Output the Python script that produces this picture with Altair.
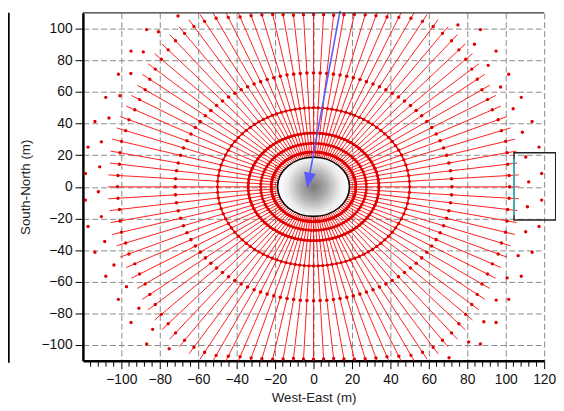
import math
import altair as alt
import pandas as pd

# ---------------- values ----------------
X_DOMAIN = [-120, 120]
Y_DOMAIN = [-110, 110]
X_TICKS = [-100, -80, -60, -40, -20, 0, 20, 40, 60, 80, 100, 120]
Y_TICKS = [-100, -80, -60, -40, -20, 0, 20, 40, 60, 80, 100]
X_MINOR = [-116, -112, -108, -104, -96, -92, -88, -84, -76, -72, -68, -64,
           -56, -52, -48, -44, -36, -32, -28, -24, -16, -12, -8, -4,
           4, 8, 12, 16, 24, 28, 32, 36, 44, 48, 52, 56, 64, 68, 72, 76,
           84, 88, 92, 96, 104, 108, 112, 116]

# spoke directions within one quadrant, measured from the horizontal axis
# (deg; denser towards the vertical, as in the picture) and the spoke end
# radius (m) read for each of them
QUAD_ANGLES = [0, 4.04, 8.07, 12.08, 16.05, 19.97, 23.83, 27.63, 31.36,
               35.02, 38.61, 42.11, 45.52, 48.87, 52.14, 55.34, 58.47,
               61.55, 64.56, 67.51, 70.42, 73.30, 76.12, 78.96, 81.73,
               84.50, 87.25, 90]
SPOKE_END = [107, 107, 107, 108, 109, 109, 110, 110, 111,
             112, 114, 116, 118, 120, 122, 123, 124,
             124, 123, 121, 119, 118, 117, 116, 115,
             114, 114, 114]
SPOKE_START = 19

# rings of mesh nodes (m) and the rings drawn as solid lines
NODE_RINGS = [22, 27.5, 34, 50, 72]
NODE_SIZE = [11, 11, 11, 11, 13]
LINE_RINGS = [22, 27.5, 34, 50]
LINE_RING_WIDTH = [2.2, 1.4, 2.4, 1.4]

# outer scattered nodes: offset from spoke end (m), every n-th spoke, shift,
# and an angular shift (deg)
OUTER_OFFSET = [-5, 5, 12]
OUTER_EVERY = [1, 2, 2]
OUTER_SHIFT = [0, 0, 1]
OUTER_HALF = [0, 1.6, 0]

# central opening (circle radius in m) and the blue arrow
HOLE_R = 18.7
ARROW_START = [13.8, 111.2]
ARROW_HEAD = [-2.6, 3.9]
ARROW_ANGLE = 10.5

# screenshot framing pieces
RIGHT_BOX = [104.3, 126.0, 21.5, -21.0]
RIGHT_BOX_CYAN = [17.6, -17.9]
LEFT_EDGE = [-158.6, 110.0, -111.2]

W, H = 468, 353
RED_LINE = "#ff1e1e"
RED_DOT = "#e00000"
FONT = "Liberation Sans"

# ---------------- tables ----------------
spoke_list = []  # (angle, end radius)
seen = set()
for q, e in zip(QUAD_ANGLES, SPOKE_END):
    for a in (q, 180 - q, 180 + q, 360 - q):
        a = round(a % 360, 3)
        if a not in seen:
            seen.add(a)
            spoke_list.append((a, e))
spoke_list.sort()


def pol(r, a):
    t = math.radians(a)
    return r * math.cos(t), r * math.sin(t)


spoke_rows = []
for a, e in spoke_list:
    x0, y0 = pol(SPOKE_START, a)
    x1, y1 = pol(e, a)
    spoke_rows.append({"x": x0, "y": y0, "x2": x1, "y2": y1})
spokes = pd.DataFrame(spoke_rows)

dot_rows = []
for r, s in zip(NODE_RINGS, NODE_SIZE):
    for a, e in spoke_list:
        x, y = pol(r, a)
        dot_rows.append({"x": x, "y": y, "s": s})
for off, every, shift, half in zip(OUTER_OFFSET, OUTER_EVERY, OUTER_SHIFT, OUTER_HALF):
    for i, (a, e) in enumerate(spoke_list):
        if (i + shift) % every == 0:
            x, y = pol(e + off, a + half)
            dot_rows.append({"x": x, "y": y, "s": 12})
dots = pd.DataFrame(dot_rows)

ring_rows = []
ring_angles = [a for a, e in spoke_list] + [360]
for r, w in zip(LINE_RINGS, LINE_RING_WIDTH):
    for j, a in enumerate(ring_angles):
        x, y = pol(r, a)
        ring_rows.append({"x": x, "y": y, "ring": str(r), "o": j, "w": w})
rings = pd.DataFrame(ring_rows)

hole = pd.DataFrame([{"x": 0, "y": 0}])
arrow = pd.DataFrame([{"x": ARROW_START[0], "y": ARROW_START[1],
                       "x2": ARROW_HEAD[0], "y2": ARROW_HEAD[1]}])
head = pd.DataFrame([{"x": ARROW_HEAD[0], "y": ARROW_HEAD[1]}])
top_border = pd.DataFrame([{"x": X_DOMAIN[0], "x2": X_DOMAIN[1],
                            "y": Y_DOMAIN[1]}])
minor = pd.DataFrame({"x": X_MINOR})
box = pd.DataFrame([{"x": RIGHT_BOX[0], "x2": RIGHT_BOX[1],
                     "y": RIGHT_BOX[2], "y2": RIGHT_BOX[3]}])
cyan = pd.DataFrame([{"x": RIGHT_BOX[0], "y": RIGHT_BOX_CYAN[0],
                      "y2": RIGHT_BOX_CYAN[1]}])
left_edge = pd.DataFrame([{"x": LEFT_EDGE[0], "y": LEFT_EDGE[1],
                           "y2": LEFT_EDGE[2]}])

# ---------------- scales / axes ----------------
XS = alt.Scale(domain=X_DOMAIN, nice=False, zero=False)
YS = alt.Scale(domain=Y_DOMAIN, nice=False, zero=False)
common_axis = dict(grid=True, gridDash=[6, 3], gridColor="#8a8a8a",
                   gridWidth=1, domainColor="#000000", domainWidth=2.5,
                   tickColor="#000000", tickSize=8, tickWidth=1,
                   labelFont=FONT, labelFontSize=14, labelColor="#111111",
                   labelFlush=False, labelOverlap=False,
                   titleFont=FONT, titleFontSize=13.5,
                   titleFontWeight="normal", titleColor="#222222")
XAX = alt.Axis(values=X_TICKS, title="West-East (m)", labelPadding=4,
               titlePadding=4, **common_axis)
YAX = alt.Axis(values=Y_TICKS, title="South-North (m)", labelPadding=3,
               titlePadding=9, **common_axis)


def X(f="x"):
    return alt.X(f, type="quantitative", scale=XS, axis=XAX)


def Y(f="y"):
    return alt.Y(f, type="quantitative", scale=YS, axis=YAX)


# ---------------- layers ----------------
spoke_layer = alt.Chart(spokes).mark_rule(
    color=RED_LINE, strokeWidth=1, clip=True
).encode(x=X(), y=Y(), x2="x2:Q", y2="y2:Q")

ring_layer = alt.Chart(rings).mark_line(color=RED_DOT, clip=True).encode(
    x=X(), y=Y(), detail="ring:N", order="o:Q",
    strokeWidth=alt.StrokeWidth("w:Q", scale=None)
)

dot_layer = alt.Chart(dots).mark_circle(
    color=RED_DOT, opacity=1, clip=True
).encode(x=X(), y=Y(), size=alt.Size("s:Q", scale=None))

px_per_x = W / (X_DOMAIN[1] - X_DOMAIN[0])
px_per_y = H / (Y_DOMAIN[1] - Y_DOMAIN[0])
hole_w = 2 * HOLE_R * px_per_x
ry = px_per_y / px_per_x
ellipse_path = f"M-1,0A1,{ry:.4f},0,1,1,1,0A1,{ry:.4f},0,1,1,-1,0Z"

hole_layer = alt.Chart(hole).mark_point(
    shape=ellipse_path, size=hole_w ** 2, filled=True, opacity=1,
    fill={"gradient": "radial",
          "stops": [{"offset": 0, "color": "#7a7a7a"},
                    {"offset": 0.35, "color": "#a9a9a9"},
                    {"offset": 0.75, "color": "#eeeeee"},
                    {"offset": 1, "color": "#ffffff"}]},
    stroke="#000000", strokeWidth=1.6
).encode(x=X(), y=Y())

arrow_layer = alt.Chart(arrow).mark_rule(
    color="#5a5aff", strokeWidth=1.6, clip=False
).encode(x=X(), y=Y(), x2="x2:Q", y2="y2:Q")

head_layer = alt.Chart(head).mark_point(
    shape="M-0.75,-1L0.75,-1L0,1Z", size=256, filled=True, opacity=1,
    color="#5a5aff", angle=ARROW_ANGLE
).encode(x=X(), y=Y())

top_layer = alt.Chart(top_border).mark_rule(
    color="#333333", strokeWidth=1.5, clip=False
).encode(x=X(), x2="x2:Q", y=Y())

minor_layer = alt.Chart(minor).mark_rule(
    color="#000000", strokeWidth=1, clip=False
).encode(x=X(), y=alt.value(H), y2=alt.value(H + 6))

box_layer = alt.Chart(box).mark_rect(
    filled=False, color="#222222", strokeWidth=1.5, clip=False
).encode(x=X(), x2="x2:Q", y=Y(), y2="y2:Q")

cyan_layer = alt.Chart(cyan).mark_rule(
    color="#33cccc", strokeWidth=1.5, clip=False
).encode(x=X(), y=Y(), y2="y2:Q")

left_layer = alt.Chart(left_edge).mark_rule(
    color="#000000", strokeWidth=2, clip=False
).encode(x=X(), y=Y(), y2="y2:Q")

chart = alt.layer(
    spoke_layer, ring_layer, dot_layer, hole_layer, arrow_layer, head_layer,
    top_layer, minor_layer, box_layer, cyan_layer, left_layer
).properties(
    width=W, height=H,
    autosize=alt.AutoSizeParams(type="none"),
    padding={"left": 76, "top": 2, "right": 12, "bottom": 48},
    background="#ffffff"
).configure_view(stroke=None)

chart.save("out.html", embed_options={"renderer": "svg", "actions": False})
